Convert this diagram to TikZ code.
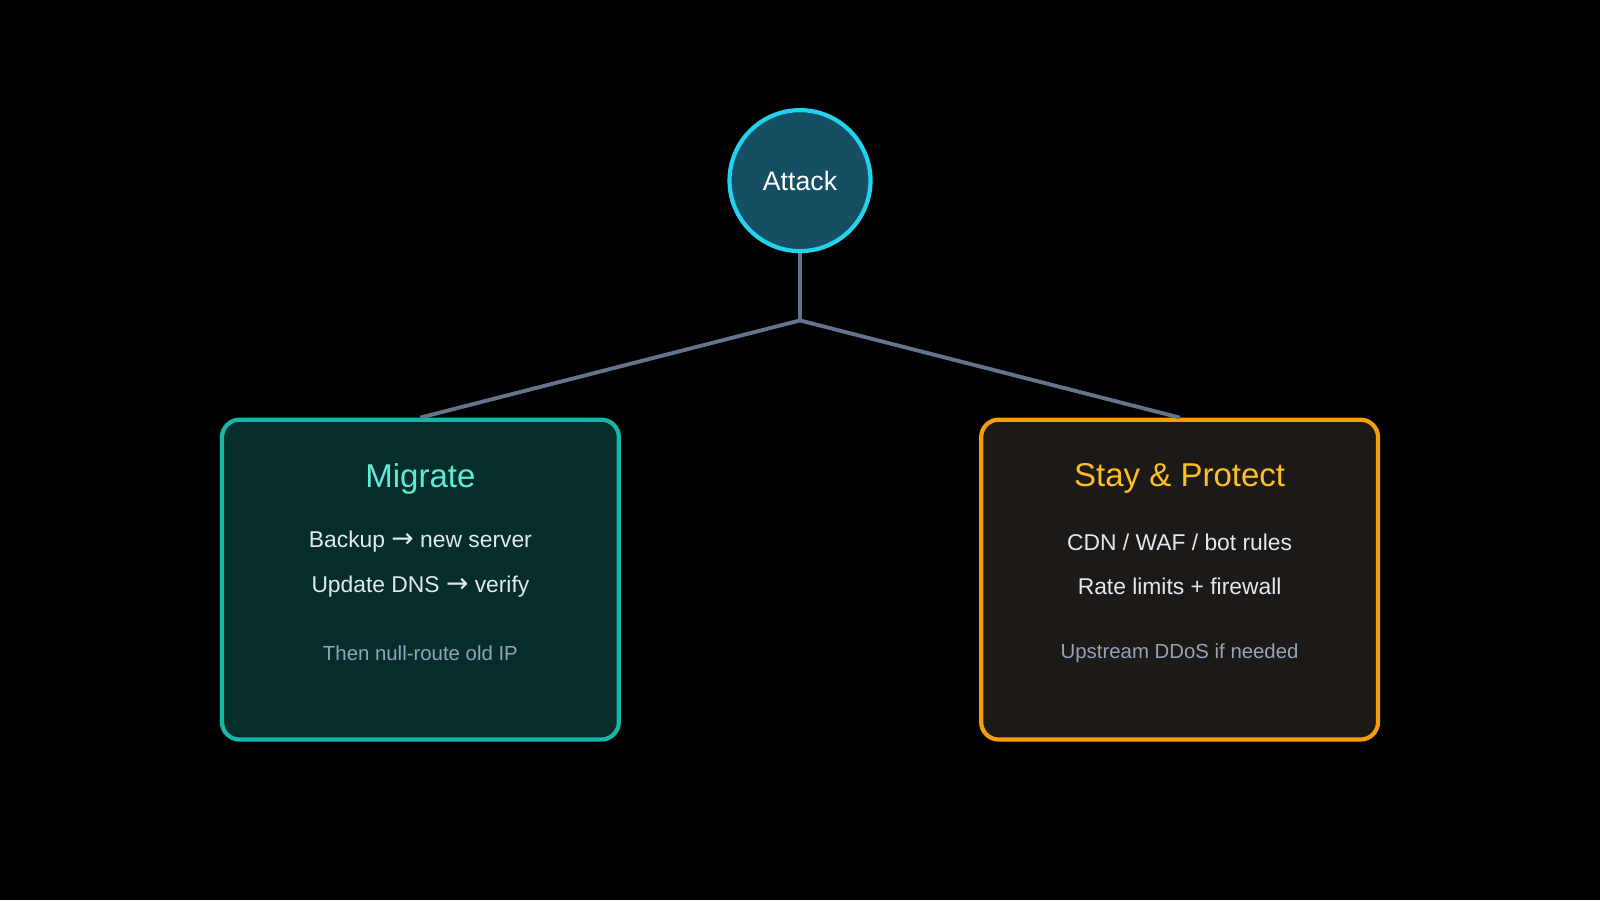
\documentclass[tikz,border=0pt]{standalone}
\usepackage{fontspec}
\setmainfont{Liberation Sans}
\newfontfamily\arrowfont{DejaVu Sans}
\usetikzlibrary{positioning}
\definecolor{bgcol}{HTML}{000000}
\definecolor{linkcol}{HTML}{64748B}
\definecolor{attackfill}{HTML}{164E63}
\definecolor{attackdraw}{HTML}{22D3EE}
\definecolor{migfill}{HTML}{052E2B}
\definecolor{migdraw}{HTML}{14B8A6}
\definecolor{migtitle}{HTML}{5EEAD4}
\definecolor{stayfill}{HTML}{1C1917}
\definecolor{staydraw}{HTML}{F59E0B}
\definecolor{staytitle}{HTML}{FBBF24}
\definecolor{bodytext}{HTML}{E2E8F0}
\definecolor{notetext}{HTML}{94A3B8}
\newcommand\arr{{\arrowfont\fontsize{7.6}{8}\selectfont →}}
\tikzset{
  link/.style={draw=linkcol,line width=1.1pt},
  box/.style={rounded corners=5pt,line width=1.2pt,minimum width=3.97cm,minimum height=3.2cm},
  title/.style={font=\fontsize{9.4}{11}\selectfont},
  body/.style={font=\fontsize{6.5}{8}\selectfont,text=bodytext},
  note/.style={font=\fontsize{5.8}{7}\selectfont,text=notetext}
}
\begin{document}
\begin{tikzpicture}[x=0.010204cm,y=-0.010204cm]
\fill[bgcol] (0,0) rectangle (1568,882);
\useasboundingbox (0,0) rectangle (1568,882);
% root
\node[circle,minimum size=1.41cm,fill=attackfill,draw=attackdraw,line width=1.2pt,
  text=white,font=\fontsize{7.6}{9}\selectfont] (attack) at (784,177) {Attack};
\coordinate (fork) at (784,314);
% branches
\node[box,fill=migfill,draw=migdraw] (migrate) at (412,568) {};
\node[box,fill=stayfill,draw=staydraw] (stay) at (1156,568) {};
\draw[link] (attack.south) -- (fork) -- (migrate.north);
\draw[link] (fork) -- (stay.north);
% texts, left
\node[title,text=migtitle] (mtitle) at (412,469) {Migrate};
\node[body] (m1) at (412,531) {Backup \arr{} new server};
\node[body] (m2) at (412,575) {Update DNS \arr{} verify};
\node[note] (m3) at (412,640) {Then null-route old IP};
% texts, right
\node[title,text=staytitle] (stitle) at (1156,469) {Stay \& Protect};
\node[body] (s1) at (1156,531) {CDN / WAF / bot rules};
\node[body] (s2) at (1156,575) {Rate limits + firewall};
\node[note] (s3) at (1156,640) {Upstream DDoS if needed};
\end{tikzpicture}
\end{document}
